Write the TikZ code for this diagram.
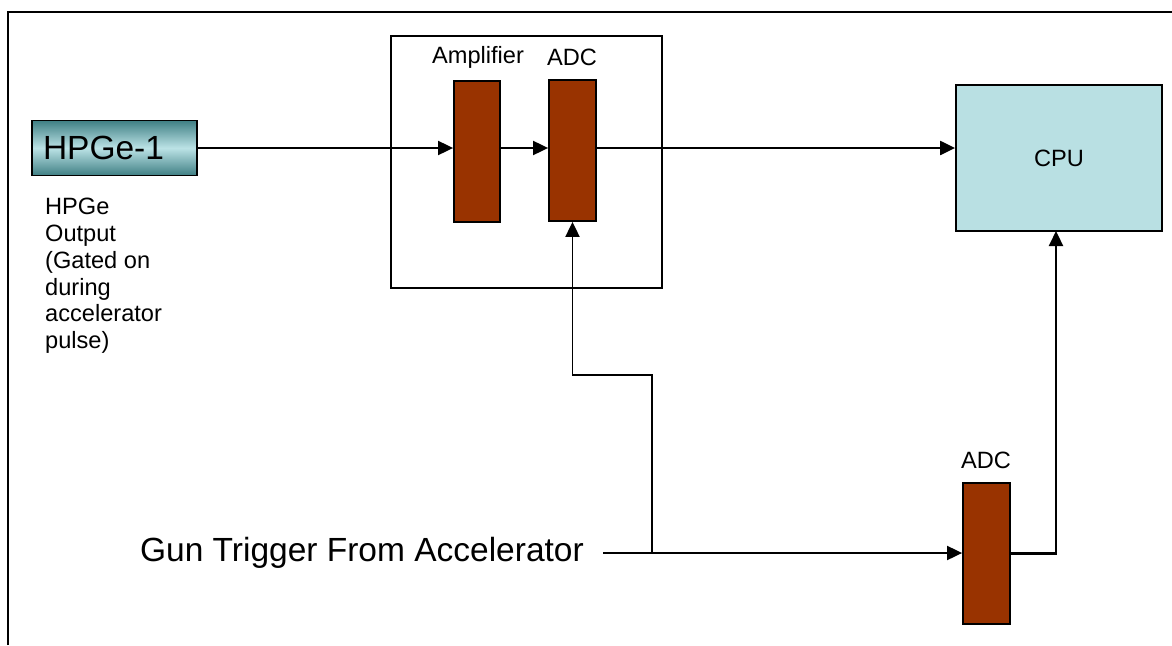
\documentclass[tikz,border=0pt]{standalone}
\usepackage{fontspec}
\setmainfont{Liberation Sans}
\usetikzlibrary{arrows.meta}
\definecolor{brick}{HTML}{993300}
\definecolor{cpufill}{HTML}{B9E0E3}
\definecolor{tealdark}{HTML}{3F7F84}
\definecolor{teallight}{HTML}{BCE3E6}
\begin{document}
\begin{tikzpicture}[x=1pt,y=-1pt,
  small/.style={font=\fontsize{23.6}{26.8}\selectfont},
  big/.style={font=\fontsize{33.5}{40}\selectfont},
  block/.style={draw=black,line width=1.8pt,fill=brick,minimum width=46pt,minimum height=141pt,inner sep=0pt},
  frame/.style={draw=black,line width=1.8pt},
  arr/.style={line width=1.9pt,-{Triangle[length=15pt,width=14pt]}},
  wire/.style={line width=1.9pt}]
\useasboundingbox (0,0) rectangle (1172,645);
% outer frame
\draw[line width=2.2pt] (8,645) -- (8,12) -- (1172,12);
% HPGe detector
\node[draw=black,line width=1.8pt,minimum width=165pt,minimum height=55pt,
  top color=tealdark,bottom color=tealdark,middle color=teallight,
  text width=143pt,align=left,inner xsep=11pt,inner ysep=0pt,big]
  (hpge) at (114.5,148) {HPGe-1};
\node[small,align=left,anchor=north west,inner sep=0pt] (hpgelbl) at (45,198)
  {HPGe\\Output\\(Gated on\\during\\accelerator\\pulse)};
% group box
\node[frame,minimum width=271pt,minimum height=252pt,inner sep=0pt] (grp) at (526.5,162) {};
\node[block] (amp) at (477,151.5) {};
\node[block,minimum width=47pt] (adc1) at (572.5,150.5) {};
\node[small,inner sep=0pt] (amplbl) at (478,57.5) {Amplifier};
\node[small,inner sep=0pt] (adc1lbl) at (572,57.5) {ADC};
% CPU
\node[draw=black,line width=1.8pt,fill=cpufill,minimum width=206pt,minimum height=146pt,small] (cpu) at (1059,158) {CPU};
% second ADC
\node[block,minimum width=47pt] (adc2) at (986.5,553.5) {};
\node[small,inner sep=0pt] (adc2lbl) at (986,460.5) {ADC};
% gun trigger
\node[big,anchor=east,inner xsep=19pt,inner ysep=0pt] (gun) at (603,553) {Gun Trigger From Accelerator};
% connectors
\draw[arr] (hpge.east) -- (hpge.east -| amp.west);
\draw[arr] (amp.east |- hpge.east) -- (hpge.east -| adc1.west);
\draw[arr,line width=2.2pt] (adc1.east |- hpge.east) -- (hpge.east -| cpu.west);
\draw[arr] (gun.east) -- (gun.east -| adc2.west);
\coordinate (j1) at (652,553);
\coordinate (j2) at (652,375);
\draw[arr] (j1) -- (j2) -- (j2 -| adc1.south) -- (adc1.south);
\coordinate (j3) at (1056,231);
\draw[arr,line width=2.2pt] (adc2.east) -| (j3);
\end{tikzpicture}
\end{document}
